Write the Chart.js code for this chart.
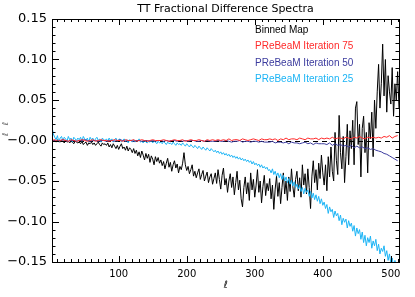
<!DOCTYPE html>
<html>
<head>
<meta charset="utf-8">
<script src="https://cdn.jsdelivr.net/npm/chart.js@4.4.0/dist/chart.umd.min.js"></script>
<style>
  html, body { margin: 0; padding: 0; background: #fff; }
  #chart { display: block; }
</style>
</head>
<body>
<canvas id="chart" width="415" height="297"></canvas>
<script>
// multipole grid (every 2nd l for the noisy curves, every 4th for the smooth ones)
const ellFine = [];
for (let l = 2; l <= 512; l += 2) ellFine.push(l);
const ellCoarse = [];
for (let l = 2; l <= 510; l += 4) ellCoarse.push(l);

// Binned Map
const binnedMap = [
  0.001, -0.001, 0.000, -0.002, 0.001, -0.001, -0.002, 0.000, -0.001, -0.003, 0.000, -0.002, -0.001, -0.003, -0.001, -0.002, -0.004, -0.001, -0.002, -0.003,
  -0.002, -0.004, -0.001, -0.005, -0.003, -0.002, -0.006, -0.003, -0.004, -0.002, -0.005, -0.003, -0.006, -0.004, -0.002, -0.005, -0.007, -0.003, -0.005, -0.004,
  -0.006, -0.003, -0.008, -0.005, -0.009, -0.004, -0.007, -0.010, -0.006, -0.011, -0.007, -0.004, -0.010, -0.008, -0.012, -0.007, -0.013, -0.009, -0.011, -0.015,
  -0.010, -0.016, -0.012, -0.019, -0.014, -0.021, -0.013, -0.018, -0.024, -0.016, -0.022, -0.017, -0.027, -0.019, -0.023, -0.030, -0.020, -0.026, -0.021, -0.028,
  -0.024, -0.031, -0.026, -0.035, -0.028, -0.022, -0.033, -0.027, -0.038, -0.030, -0.025, -0.034, -0.029, -0.040, -0.032, -0.036, -0.028, -0.015, -0.030, -0.037,
  -0.032, -0.041, -0.036, -0.030, -0.044, -0.038, -0.046, -0.040, -0.035, -0.048, -0.042, -0.037, -0.050, -0.044, -0.039, -0.052, -0.045, -0.041, -0.054, -0.047,
  -0.040, -0.053, -0.036, -0.048, -0.060, -0.043, -0.034, -0.055, -0.047, -0.064, -0.050, -0.041, -0.058, -0.045, -0.067, -0.052, -0.038, -0.061, -0.049, -0.072,
  -0.082, -0.058, -0.045, -0.066, -0.052, -0.074, -0.040, -0.061, -0.048, -0.070, -0.055, -0.036, -0.064, -0.050, -0.077, -0.057, -0.043, -0.068, -0.053, -0.062,
  -0.047, -0.072, -0.055, -0.085, -0.060, -0.044, -0.069, -0.052, -0.078, -0.058, -0.040, -0.066, -0.050, -0.074, -0.045, -0.063, -0.035, -0.057, -0.070, -0.048,
  -0.038, -0.062, -0.046, -0.070, -0.030, -0.055, -0.041, -0.066, -0.035, -0.058, -0.084, -0.044, -0.025, -0.052, -0.036, -0.061, -0.028, -0.047, -0.018, -0.040,
  -0.055, -0.030, -0.062, -0.020, -0.045, -0.008, -0.038, -0.050, 0.010, -0.025, -0.042, 0.031, -0.015, -0.035, 0.005, -0.052, -0.020, 0.020, -0.030, 0.012,
  -0.010, 0.025, -0.030, 0.040, 0.048, -0.005, 0.020, -0.045, 0.015, 0.030, -0.015, 0.010, -0.040, 0.022, 0.002, 0.035, -0.020, 0.050, 0.015, 0.060,
  0.094, 0.040, 0.070, 0.119, 0.055, 0.100, 0.035, 0.080, 0.060, 0.045, 0.090, 0.030, 0.070, 0.050, 0.085, 0.040
];

// PReBeaM Iteration 25
const iter25 = [
  0.017, 0.008, 0.004, 0.001, 0.006, -0.002, 0.003, 0.005, 0.000, 0.004, 0.002, -0.001, 0.005, 0.001, 0.003, -0.002, 0.004, 0.002, 0.000, 0.003,
  0.001, 0.004, -0.001, 0.005, 0.002, 0.000, 0.003, -0.002, 0.004, 0.001, 0.003, -0.001, 0.002, 0.004, 0.000, 0.002, -0.002, 0.003, 0.001, 0.000,
  0.002, -0.001, 0.003, 0.000, 0.002, -0.002, 0.001, 0.003, -0.001, 0.001, 0.002, -0.002, 0.000, 0.002, -0.001, 0.001, -0.003, 0.001, 0.000, -0.002,
  0.001, -0.002, 0.000, -0.001, 0.002, -0.002, -0.001, -0.003, 0.000, -0.002, -0.003, -0.001, -0.002, 0.000, -0.003, -0.001, -0.002, -0.004, -0.001, -0.003,
  -0.002, -0.004, -0.001, -0.003, -0.005, -0.002, -0.004, -0.003, -0.005, -0.002, -0.004, -0.006, -0.003, -0.005, -0.004, -0.006, -0.003, -0.005, -0.007, -0.004,
  -0.006, -0.008, -0.005, -0.007, -0.009, -0.006, -0.008, -0.010, -0.007, -0.009, -0.011, -0.008, -0.010, -0.012, -0.009, -0.011, -0.013, -0.010, -0.012, -0.014,
  -0.012, -0.015, -0.013, -0.016, -0.014, -0.017, -0.015, -0.018, -0.016, -0.019, -0.017, -0.020, -0.018, -0.021, -0.019, -0.022, -0.020, -0.023, -0.021, -0.024,
  -0.022, -0.025, -0.023, -0.026, -0.024, -0.027, -0.025, -0.029, -0.026, -0.030, -0.028, -0.031, -0.029, -0.033, -0.030, -0.034, -0.032, -0.035, -0.033, -0.037,
  -0.036, -0.040, -0.035, -0.042, -0.038, -0.044, -0.040, -0.046, -0.041, -0.048, -0.043, -0.050, -0.045, -0.052, -0.047, -0.054, -0.049, -0.056, -0.051, -0.058,
  -0.054, -0.060, -0.055, -0.063, -0.058, -0.066, -0.059, -0.064, -0.061, -0.069, -0.063, -0.071, -0.065, -0.073, -0.067, -0.075, -0.069, -0.078, -0.072, -0.080,
  -0.076, -0.084, -0.079, -0.090, -0.082, -0.088, -0.085, -0.095, -0.087, -0.093, -0.090, -0.099, -0.092, -0.104, -0.096, -0.101, -0.097, -0.108, -0.099, -0.106,
  -0.102, -0.112, -0.105, -0.118, -0.108, -0.115, -0.110, -0.122, -0.113, -0.126, -0.117, -0.130, -0.120, -0.126, -0.118, -0.133, -0.124, -0.130, -0.122, -0.136,
  -0.128, -0.140, -0.133, -0.137, -0.130, -0.143, -0.136, -0.148, -0.140, -0.152, -0.145, -0.156, -0.148, -0.154, -0.150, -0.158
];

// PReBeaM Iteration 75
const iter75 = [
  0.000, 0.001, -0.001, 0.000, 0.001, 0.000, -0.001, 0.001, 0.000, -0.001, 0.000, 0.001, 0.000, -0.001, 0.000, 0.001, -0.001, 0.000, 0.001, 0.000,
  0.000, -0.001, 0.000, 0.001, 0.000, 0.000, -0.001, 0.001, 0.000, 0.000, 0.001, -0.001, 0.000, 0.001, 0.000, -0.001, 0.000, 0.001, 0.000, 0.000,
  0.000, 0.001, 0.000, -0.001, 0.000, 0.001, 0.000, 0.000, 0.001, -0.001, 0.000, 0.001, 0.000, 0.000, 0.001, 0.000, -0.001, 0.001, 0.000, 0.001,
  0.000, 0.001, 0.000, 0.001, 0.000, 0.002, 0.000, 0.001, 0.001, 0.000, 0.002, 0.001, 0.000, 0.001, 0.002, 0.001, 0.000, 0.002, 0.001, 0.001,
  0.002, 0.001, 0.002, 0.000, 0.002, 0.001, 0.003, 0.001, 0.002, 0.002, 0.001, 0.003, 0.002, 0.001, 0.003, 0.002, 0.002, 0.003, 0.001, 0.003,
  0.002, 0.003, 0.002, 0.004, 0.002, 0.003, 0.003, 0.002, 0.004, 0.003, 0.002, 0.004, 0.003, 0.005, 0.003, 0.002, 0.004, 0.003, 0.004, 0.003,
  0.004, 0.003, 0.005, 0.004, 0.006, 0.003, 0.005, 0.006
];

// PReBeaM Iteration 50
const iter50 = [
  0.000, 0.000, -0.001, 0.000, 0.001, 0.000, -0.001, 0.000, 0.000, -0.001, 0.000, 0.000, 0.001, 0.000, -0.001, 0.000, 0.000, -0.001, 0.000, 0.000,
  -0.001, 0.000, 0.000, -0.001, 0.000, 0.001, 0.000, -0.001, 0.000, 0.000, -0.001, 0.000, 0.000, -0.001, 0.000, 0.000, -0.001, 0.000, -0.001, 0.000,
  0.000, -0.001, 0.000, -0.001, 0.000, 0.000, -0.001, 0.000, -0.001, 0.000, -0.001, 0.000, 0.000, -0.001, -0.001, 0.000, -0.001, 0.000, -0.001, -0.001,
  -0.001, 0.000, -0.001, -0.001, 0.000, -0.001, -0.002, -0.001, -0.001, 0.000, -0.002, -0.001, -0.001, -0.002, -0.001, -0.001, -0.002, -0.001, -0.002, -0.002,
  -0.002, -0.001, -0.003, -0.002, -0.002, -0.003, -0.002, -0.004, -0.002, -0.003, -0.003, -0.004, -0.003, -0.002, -0.004, -0.003, -0.005, -0.003, -0.004, -0.004,
  -0.004, -0.005, -0.003, -0.006, -0.004, -0.006, -0.005, -0.007, -0.006, -0.008, -0.006, -0.009, -0.007, -0.009, -0.008, -0.010, -0.009, -0.011, -0.010, -0.012,
  -0.013, -0.014, -0.016, -0.017, -0.019, -0.021, -0.023, -0.025
];

const seriesNames = ['Binned Map', 'PReBeaM Iteration 75', 'PReBeaM Iteration 50', 'PReBeaM Iteration 25'];
const seriesColors = ['#000000', '#ff2a2a', '#3b3b9e', '#1cb4f5'];

const xTicks = [100, 200, 300, 400, 500];
const yTicks = [-0.15, -0.10, -0.05, 0, 0.05, 0.10, 0.15];
const yTickLabels = ['\u22120.15', '\u22120.10', '\u22120.05', '\u22120.00', '0.05', '0.10', '0.15'];

const toPoints = (xs, ys) => ys.map((v, i) => ({ x: xs[i], y: v }));

// frame, inward ticks (IDL style), zero line, labels
const idlFrame = {
  id: 'idlFrame',
  beforeDatasetsDraw(chart) {
    const { ctx, chartArea: a, scales: { y } } = chart;
    const y0 = Math.round(y.getPixelForValue(0)) + 0.5;
    ctx.save();
    ctx.strokeStyle = '#000';
    ctx.lineWidth = 1;
    ctx.setLineDash([5, 4]);
    ctx.beginPath();
    ctx.moveTo(a.left, y0);
    ctx.lineTo(a.right, y0);
    ctx.stroke();
    ctx.restore();
  },
  afterDraw(chart) {
    const { ctx, chartArea: a, scales: { x, y } } = chart;
    ctx.save();
    ctx.strokeStyle = '#000';
    ctx.lineWidth = 1;
    ctx.strokeRect(Math.round(a.left) + 0.5, Math.round(a.top) + 0.5,
      Math.round(a.right - a.left), Math.round(a.bottom - a.top));

    ctx.beginPath();
    for (let l = 10; l < 512; l += 10) {
      const px = Math.round(x.getPixelForValue(l)) + 0.5;
      const len = l % 100 === 0 ? 6 : 3;
      ctx.moveTo(px, a.bottom); ctx.lineTo(px, a.bottom - len);
      ctx.moveTo(px, a.top); ctx.lineTo(px, a.top + len);
    }
    for (let k = -15; k <= 15; k++) {
      const py = Math.round(y.getPixelForValue(k / 100)) + 0.5;
      const len = k % 5 === 0 ? 7 : 3.5;
      ctx.moveTo(a.left, py); ctx.lineTo(a.left + len, py);
      ctx.moveTo(a.right, py); ctx.lineTo(a.right - len, py);
    }
    ctx.stroke();

    const cx = (a.left + a.right) / 2;
    ctx.fillStyle = '#000';
    ctx.textAlign = 'center';
    ctx.textBaseline = 'middle';
    ctx.font = '11px "DejaVu Sans"';
    ctx.fillText('TT Fractional Difference Spectra', cx, 9);
    ctx.font = '10px "DejaVu Sans"';
    ctx.fillText('\u2113', cx, 285);

    ctx.save();
    ctx.translate(6, 129);
    ctx.rotate(-Math.PI / 2);
    ctx.font = '8px "DejaVu Sans"';
    ctx.fillStyle = '#555';
    ctx.fillText('\u2113   \u2113', 0, 0);
    ctx.restore();

    ctx.textAlign = 'left';
    ctx.font = '10px "Liberation Sans"';
    const legendY = [30, 46.5, 63, 79.5];
    seriesNames.forEach((name, i) => {
      ctx.fillStyle = seriesColors[i];
      ctx.fillText(name, 255, legendY[i]);
    });
    ctx.restore();
  }
};

const lineStyle = { borderWidth: 1, pointRadius: 0, tension: 0, fill: false };

new Chart(document.getElementById('chart'), {
  type: 'line',
  data: {
    datasets: [
      { label: seriesNames[1], data: toPoints(ellCoarse, iter75), borderColor: seriesColors[1], order: 0, ...lineStyle },
      { label: seriesNames[2], data: toPoints(ellCoarse, iter50), borderColor: seriesColors[2], order: 1, ...lineStyle },
      { label: seriesNames[3], data: toPoints(ellFine, iter25), borderColor: seriesColors[3], order: 2, ...lineStyle },
      { label: seriesNames[0], data: toPoints(ellFine, binnedMap), borderColor: seriesColors[0], order: 3, ...lineStyle }
    ]
  },
  options: {
    responsive: false,
    animation: false,
    devicePixelRatio: 1,
    layout: { padding: { top: 19, right: 16, left: 0, bottom: 0 } },
    plugins: { legend: { display: false }, tooltip: { enabled: false }, title: { display: false } },
    scales: {
      x: {
        type: 'linear', min: 2, max: 512,
        grid: { display: false, drawTicks: false },
        border: { display: false },
        ticks: { color: '#000', font: { family: 'DejaVu Sans', size: 10 }, padding: 6, maxRotation: 0, autoSkip: false },
        afterBuildTicks: s => { s.ticks = xTicks.map(v => ({ value: v })); },
        afterFit: s => { s.height = 35; }
      },
      y: {
        min: -0.15, max: 0.15,
        grid: { display: false, drawTicks: false },
        border: { display: false },
        ticks: {
          color: '#000', font: { family: 'DejaVu Sans', size: 13 }, padding: 5, autoSkip: false,
          callback: (v) => { const i = yTicks.findIndex(t => Math.abs(t - v) < 1e-9); return i >= 0 ? yTickLabels[i] : ''; }
        },
        afterBuildTicks: s => { s.ticks = yTicks.map(v => ({ value: v })); },
        afterFit: s => { s.width = 52; }
      }
    }
  },
  plugins: [idlFrame]
});
</script>
</body>
</html>
